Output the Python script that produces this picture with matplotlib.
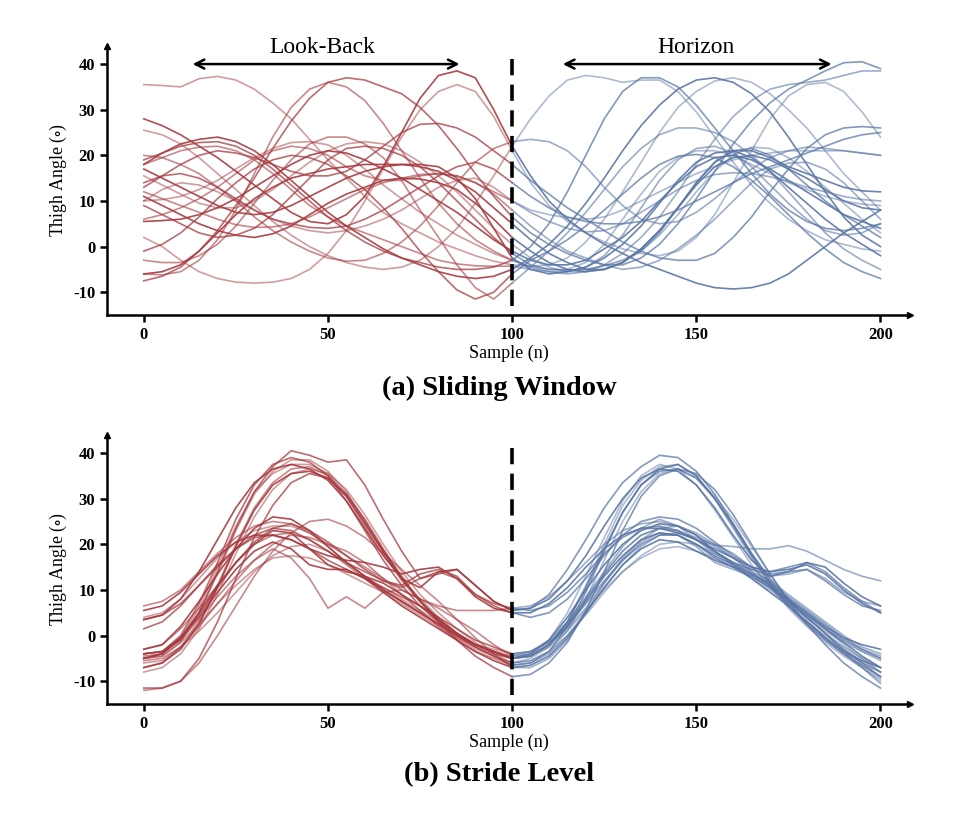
import matplotlib

matplotlib.use("Agg")
import matplotlib.pyplot as plt
import numpy as np

plt.rcParams["font.family"] = ["Liberation Serif", "DejaVu Serif"]
plt.rcParams["mathtext.fontset"] = "stix"
plt.rcParams["axes.unicode_minus"] = False

samples = np.arange(0, 201, 5)
split_at = 100

# (a) sliding window: thigh angle every 5 samples, one row per window
window_curves = [
    [35.5, 35.3, 35, 36.8, 37.3, 36.5, 34.5, 31.5, 28, 23.5, 19, 15, 11, 7.5, 5, 3, 1, -0.5, -2, -3.2,
     -4, -4.3, -4, -2.5, 1, 6, 12, 18.5, 25, 30.5, 34, 36.3, 37, 36, 33.5, 30, 26, 21, 16, 12, 8],
    [-7.5, -6.5, -4.5, -1, 3.5, 9, 15, 21.5, 27.5, 32.5, 36, 37, 36.5, 35, 33.5, 30.5, 26.5, 21.5, 16, 11,
     6.5, 3, 0.5, -1.5, -3, -4, -4, -2.5, 0.5, 5, 10.5, 16.5, 22.5, 27.5, 31.5, 34.5, 36.5, 38.5, 40.3, 40.5, 39],
    [-6, -6.2, -5.5, -3, 1.5, 8, 16, 24, 30.5, 34.5, 36, 35, 32, 27, 21, 15, 9.5, 5, 1.5, -1,
     -3, -4.5, -5.5, -6, -5.5, -4, -1.5, 2, 6.5, 12, 18, 23.5, 28.5, 32, 34.5, 35.5, 36, 36.5, 37.5, 38.5, 38.5],
    [28, 26.5, 24.5, 22, 19.5, 16.5, 13.5, 10.5, 7.5, 5.5, 5, 7, 11, 17.5, 25, 32.5, 37.5, 38.5, 37, 30,
     22, 15.5, 10, 6, 3, 0.5, -1.5, -3.5, -5, -6.5, -8, -9, -9.3, -9, -8, -6, -3, 0, 3, 5.5, 8],
    [25.5, 24.5, 22.5, 19.5, 16, 12.5, 9, 5.5, 2.5, 0, -2, -3.5, -4.5, -5, -4.5, -3, 0, 4, 9.5, 15.5,
     22, 28, 33, 36.5, 37.5, 37, 36, 36.5, 36.5, 34, 29.5, 24, 18.5, 13.5, 9.5, 6, 3.5, 1.5, 0.5, -0.5, -1],
    [19, 20.5, 22, 22.8, 23, 22, 20, 17, 13.5, 10, 6.5, 3.5, 1, -1, -2.5, -3.5, -4.5, -5, -5, -4.5,
     -3, 0, 5, 12, 20, 28, 34, 37, 37, 35, 31, 26, 21, 16, 11.5, 8, 5.5, 4, 3.5, 4, 5],
    [18, 19.5, 21, 21.8, 22, 21, 19, 16, 12.5, 9, 6.5, 4.5, 3, 1.5, 0, -1.5, -3, -3.8, -4.2, -4.3,
     -4.3, -5, -5.5, -5.5, -4.5, -2, 2.5, 8.5, 14.5, 19, 21.5, 22, 20.5, 17.5, 13.5, 9.5, 6, 3.5, 2.5, 3, 5],
    [17, 15, 13, 11, 9, 7.5, 7, 7.5, 9, 11, 13, 15, 16.5, 17.5, 18, 17.5, 16.5, 14.5, 12, 8.5,
     5, 1.5, -1.5, -3.5, -5, -5, -3.5, -0.5, 3.5, 8.5, 13.5, 17.5, 19.5, 20, 19, 17, 15, 12.5, 10, 8.5, 8],
    [15.5, 13.5, 11.5, 9.5, 8.5, 8.5, 10, 12.5, 15.5, 18.5, 21, 22.5, 23, 22.5, 21, 18.5, 15.5, 12, 8, 4,
     0.5, -2.5, -4.5, -5.5, -5.5, -5, -3.5, -1, 2.5, 7, 12, 16.5, 20, 21.8, 21.5, 19.5, 16.5, 13, 9.5, 6, 3],
    [14, 15.5, 16, 15, 13, 10.5, 8, 6, 5, 4.2, 4, 4.5, 6, 8, 10.5, 13, 15.5, 17.5, 18.5, 17,
     14, 11, 8.5, 6.5, 5.5, 5, 5, 5.5, 6.5, 8, 10, 12, 14, 16, 17.5, 19, 20.5, 22, 23.5, 24.5, 25],
    [12, 10.5, 9, 7.5, 6, 4.8, 4.2, 4.3, 5, 6.5, 8.5, 10.5, 12.5, 14, 15, 15.8, 16, 15.5, 14, 12,
     10, 7.5, 5.5, 4, 3.2, 3.5, 5, 7.5, 10, 12.5, 14.5, 15.8, 16.2, 16, 15.3, 14.3, 13, 12, 11, 10.3, 10],
    [11, 9, 7, 5, 3.5, 2.5, 2, 2.8, 4.5, 7, 9.5, 11.5, 13, 14.5, 15, 14.8, 14, 12.5, 9.5, 6,
     2, -1, -3.5, -5, -5.5, -5, -3.5, -0.5, 3.5, 8.5, 14, 18.5, 21, 21, 19.5, 17.5, 16, 14.5, 13, 12.2, 12],
    [10, 12.5, 14, 13.5, 12, 10, 8, 6, 4.5, 3.5, 3, 3.5, 4.5, 6, 8, 10.5, 13, 14.5, 15, 13,
     10, 8, 7, 6.3, 6, 6.5, 8, 10, 12, 14, 16, 17.5, 19, 20, 20.5, 21, 21, 21, 21, 20.5, 20],
    [9, 7, 5, 3, 2, 2.5, 4, 7, 11, 15, 19, 21.5, 22, 21.5, 20, 17.5, 14, 10, 6, 2,
     -1.5, -4, -5, -5.2, -5, -4.2, -3, -1, 3, 8.5, 14, 18.5, 21, 21.5, 20, 17, 13.5, 10, 7, 4.5, 2],
    [6, 7, 8.5, 10.5, 13, 16, 19, 21, 22, 21.5, 20, 17.5, 15.5, 14.5, 14.5, 15.5, 16, 15.5, 14, 11.5,
     8, 4.5, 1.5, -1, -2.5, -4, -5, -4.5, -3, -0.5, 2.5, 6, 10, 14, 17, 18.3, 18.5, 17, 14, 10, 6],
    [5.5, 5.7, 6, 7, 8.5, 10.5, 13, 15.5, 18, 20, 21, 20.5, 19, 17, 15, 12.5, 10, 7.5, 4.5, 1.5,
     -1, -3, -4, -4, -3, -0.5, 2, 5.5, 10, 14, 17.5, 19.5, 20, 19, 17, 14.5, 12, 9.5, 7, 5.5, 4],
    [2, 0, -3, -5.5, -7, -7.8, -8, -7.8, -7, -5, -1.5, 3.5, 10, 17, 24, 30, 34, 35.5, 34, 28.5,
     21, 14, 9, 5.5, 3, 1, -0.5, -1.5, -2, -1, 2, 7, 14, 21, 28, 33, 35.5, 36, 34, 29.5, 24],
    [-1, 0.5, 3, 6.5, 10.5, 14, 17, 19, 20, 19.5, 18, 15.5, 12.5, 8.5, 4, -1, -5.5, -9.5, -11.5, -10,
     -6, -3, -1, 1.5, 4.5, 8, 11.5, 15, 18, 19.8, 20.2, 19.5, 17.5, 14.5, 11, 7, 3, -0.5, -3.5, -5.5, -7],
    [-3, -3.5, -3.5, -2, 0.5, 4.5, 9.5, 14.5, 19, 22.5, 24, 24, 22.5, 19.5, 14.5, 8, 2, -4, -9, -11.5,
     -8, -4.5, -1, 3, 7.5, 12.5, 17.5, 21.5, 24.5, 26, 26, 25, 23, 20, 16.5, 12, 7.5, 3, -0.5, -3, -5],
    [-6, -5.5, -4, -1, 3, 7, 10.5, 13, 15, 16, 17, 17.5, 18, 18, 18, 18, 17.5, 15, 10.5, 4,
     -2.5, -5, -6, -5.5, -4.5, -2.5, 0.5, 4.5, 9.5, 14.5, 18.5, 20.5, 21, 19.5, 16.5, 13, 9.5, 6, 3, 0.5, -2],
    [10, 10.3, 11, 12.5, 14.5, 17, 19.5, 21.5, 22.8, 23, 22.3, 20, 17, 13.5, 10.5, 7.5, 5, 2.5, 0.5, -1.5,
     -3, -4.3, -5, -5, -3.5, 0.5, 6, 11.5, 16.5, 19.5, 21, 21, 20, 18, 16, 14, 12.5, 11, 10, 9.3, 9],
    [13, 15.5, 18, 20, 21, 20.5, 19.5, 18, 16.5, 15.5, 15.5, 16.5, 19, 22, 25, 26.8, 27, 26, 24, 21,
     18, 14.5, 11.5, 8.5, 6, 3.5, 1, -1, -2.5, -3, -3, -1.5, 2, 6.5, 12, 17, 21.5, 24.5, 26, 26.3, 26],
    [20, 19.5, 18, 16, 13, 10, 6.5, 3.5, 1, -1, -2.5, -3.2, -3, -1.5, 1, 4.5, 9, 14, 18.5, 21.5,
     23, 23.5, 23, 21, 17.5, 13, 9, 6, 5, 5.5, 7.5, 10.5, 14, 17, 19.5, 21, 21.8, 21.5, 21, 20.5, 20],
    [18, 20.5, 22.5, 23.5, 24, 23, 21, 18, 14.5, 11, 7.5, 4.5, 2, -0.5, -2.5, -4, -5.5, -6.5, -7, -6.5,
     -5, -2.5, 0.5, 4.5, 9.5, 15, 21, 26.5, 31, 34.5, 36.5, 37, 36, 33.5, 29.5, 24, 18, 12, 6.5, 2.5, 0],
]

# (b) stride level: look-back stride (0-100) then horizon stride (100-200)
stride_curves = [
    [-5, -4, -0.5, 6, 15, 24, 31.5, 35.5, 37.5, 37.5, 35.5, 30.5, 24, 18, 12, 7.5, 3.5, 0.5, -2, -4,
     -5, -4, -1, 5, 13, 21.5, 29.5, 35, 37.5, 36.5, 33, 27.5, 21.5, 15.5, 10.5, 6.5, 3, 0, -3, -5.5, -8],
    [-4, -3.5, -1, 5, 14, 23.5, 31.5, 37, 40.5, 39.5, 38, 38.5, 33, 25.5, 18.5, 12.5, 13.5, 14.5, 11, 7.5,
     5.5, 6, 9, 14.5, 21, 28, 33.5, 37, 39.5, 39, 36, 31, 24.5, 18, 12.5, 8, 4, 0.5, -3, -6, -9],
    [-5.5, -5, -2.5, 3, 11, 20, 28, 33.5, 36.5, 37, 35, 31, 25, 18.5, 12.5, 8, 4, 0.5, -2, -3.5,
     -4.5, -3.5, -1, 3, 8.5, 14, 19.5, 23.5, 25.5, 24, 21, 19.8, 19.5, 19, 19, 19.7, 18.5, 16.5, 14.5, 13, 12],
    [-7, -6, -3, 2.5, 10.5, 19.5, 27.5, 33, 35.5, 36, 34.5, 30.5, 24.5, 18.5, 12.5, 7.5, 3.5, 0.5, -2, -3.5,
     -5, -4.5, -2, 3, 10.5, 19, 27, 33, 36.5, 37.5, 35, 30, 24, 17.5, 11.5, 6.5, 2.5, -1, -4, -6.5, -9],
    [-8, -7, -4, 1.5, 9, 18, 26, 32, 35.5, 36.5, 35.5, 32, 26.5, 20, 14, 9, 5, 1.5, -1.5, -4,
     -6, -5.5, -3.5, 1, 8, 16.5, 25, 31.5, 35.5, 36.5, 34.5, 30.5, 25.5, 19.5, 13.5, 8, 3.5, -0.5, -4, -7, -10],
    [-11.5, -11.5, -10, -5, 3, 12.5, 21.5, 28.5, 33.5, 35.5, 34.5, 31, 25.5, 19, 13, 7.5, 3, -1, -4.5, -7,
     -9, -8.5, -6, -1.5, 5.5, 14, 23, 30.5, 35, 36.5, 35.5, 32, 26.5, 20, 13.5, 7.5, 2.5, -2, -6, -9, -11.5],
    [-12, -11.5, -10, -6, 0, 6.5, 13, 18.5, 22.5, 25, 25.5, 24, 21.5, 18, 14.5, 11, 7.5, 3.5, -0.5, -4,
     -7, -7, -5, -1, 5, 11.5, 17, 21, 23.5, 24, 22.5, 20, 17, 14, 11, 7.5, 4, 0.5, -3.5, -7, -10.5],
    [3.5, 4.5, 8, 14, 21, 28, 33.5, 36.5, 37.5, 36.5, 34, 29.5, 23.5, 17.5, 12.5, 10.5, 14, 14.5, 11, 7.5,
     5.5, 6, 8, 12, 17.5, 24, 30, 34.5, 36.5, 36, 33, 28, 22, 16.5, 13, 14, 16, 15, 11.5, 8.5, 6.5],
    [-5, -4.5, -1.5, 5, 13.5, 23, 31, 36, 38.5, 38.5, 36, 31.5, 25, 18.5, 12.5, 7.5, 3.5, 0, -2.5, -4.5,
     -6, -5, -2.5, 3, 11, 20, 28.5, 34, 37, 37.5, 35, 30, 23.5, 17, 11, 6, 2, -1.5, -4.5, -7, -9.5],
    [-4, -3.5, 0, 7, 16, 25.5, 33, 37.5, 39, 38, 35, 29.5, 23, 16.5, 11, 6.5, 3, 0, -2.5, -4.5,
     -6.5, -6, -3.5, 2, 9.5, 18.5, 27, 33, 36, 36.5, 34.5, 30, 24.5, 18, 12, 7, 3, -0.5, -3.5, -6, -8],
    [6.5, 7.5, 10, 14, 18, 21.5, 24, 25, 24.5, 22.5, 20, 17.5, 15, 12.5, 10, 8, 6.5, 5.5, 5.5, 5.5,
     6, 6.5, 8.5, 12, 16, 20, 23, 24.5, 25, 24, 22, 19.5, 17, 14.5, 13, 13.5, 14.5, 12.5, 9.5, 7.5, 6.5],
    [5.5, 6.5, 9.5, 13.5, 17.5, 20.5, 22, 22, 21, 19, 17.5, 16.5, 16, 15, 13.5, 14.5, 15, 12.5, 8.5, 6,
     5, 5, 7, 10.5, 15, 19, 22, 23.5, 23.5, 22.5, 21, 19, 17, 15, 14, 14.5, 15.5, 13.5, 10, 7, 5],
    [4, 5, 8, 12.5, 17, 20.5, 23, 24, 24, 22.5, 19.5, 16, 13, 10.5, 8, 5.5, 3, 0.5, -2, -3,
     -4, -3.5, -1.5, 2.5, 8, 13.5, 18.5, 22, 23.5, 23, 21, 18.5, 16, 13.5, 11, 8, 5, 2, -1, -3.5, -5.5],
    [1.5, 3, 6.5, 11, 15.5, 19, 21.5, 22, 21, 19, 16.5, 14.5, 12.5, 10.5, 8.5, 6.5, 4, 1.5, -1, -2.5,
     -4, -3.5, -1.5, 2, 7, 12, 16.5, 20, 22, 22, 20, 17, 15, 13.5, 11.5, 8.5, 5.5, 2.5, -0.5, -3, -5],
    [-3, -2, 1.5, 6, 11, 16, 20, 22, 22.5, 21, 18.5, 15.5, 12.5, 10, 7.5, 5, 2.5, 0, -2, -3.5,
     -5, -4.5, -2, 2.5, 8, 13.5, 18.5, 22, 23.5, 23, 21, 18, 16, 14, 12, 9, 6, 3, 0, -2.5, -4],
    [-4, -3.5, -0.5, 4, 9.5, 14.5, 18.5, 20.5, 19, 15.5, 14.5, 14.5, 12.5, 9.5, 6.5, 4, 1.5, -1, -3.5, -5.5,
     -7, -6.5, -4.5, -0.5, 5, 10.5, 15.5, 19, 21, 20.5, 18.5, 16.5, 15, 13, 10.5, 7.5, 4.5, 1.5, -1.5, -4.5, -7],
    [-5, -4.5, -1.5, 2.5, 7, 11, 14.5, 17, 17.5, 17, 15.5, 13.5, 11.5, 9.5, 7, 4.5, 2, -0.5, -2.5, -4,
     -5, -4.5, -2.5, 1, 5.5, 10, 14, 17, 19, 19.5, 18.5, 17, 15, 12.5, 10, 7, 4, 1, -1.5, -3.5, -5],
    [-5, -4, -0.5, 4.5, 10.5, 16, 20.5, 23.5, 24.5, 23, 20.5, 17.5, 14.5, 12, 11, 13.5, 14.5, 13, 9, 6.5,
     5, 4, 5, 8, 12.5, 17.5, 22, 25, 26, 25.5, 23.5, 20.5, 17.5, 15, 14, 15, 16, 14, 10.5, 7.5, 5],
    [-7, -6, -2.5, 2, 7, 12, 16.5, 20, 22, 21.5, 20, 18.5, 16, 12.5, 9, 5.5, 2, -1, -3.5, -5,
     -6.5, -6, -4, 0, 5, 10.5, 15.5, 19.5, 22, 22.5, 21.5, 20, 18, 15, 11.5, 7.5, 4, 0.5, -2.5, -5, -7],
    [-3, -2, 2, 7.5, 13.5, 19, 23.5, 26, 25.5, 23, 19.5, 16, 13, 10, 7.5, 5, 2.5, 0, -2, -3.5,
     -5, -4, -1, 4, 10, 15.5, 20, 23, 24.5, 24, 22, 18.5, 15.5, 12.5, 9.5, 6.5, 3, -0.5, -3.5, -5.5, -7],
    [-6, -5.5, -2.5, 1, 5, 9.5, 14, 17.5, 19.5, 20, 18.5, 16, 13, 10, 7.5, 5, 2.5, -0.5, -3, -4.5,
     -6, -5.5, -3.5, 0, 4.5, 9.5, 14, 17.5, 20, 20.5, 20, 18, 16, 13.5, 11, 8, 5, 1.5, -2, -5, -8],
    [3.5, 4.5, 7, 11, 15, 19, 22, 23.5, 23, 21, 18.5, 16, 14, 12, 10.5, 12.5, 14, 12.5, 9, 7,
     6, 5.5, 6.5, 9.5, 13.5, 18, 21.5, 23.5, 24, 23, 21, 18.5, 16, 14.5, 13.5, 14, 14.5, 12, 9, 6.5, 5.5],
    [-4.5, -4, -1, 3.5, 8.5, 13, 16.5, 19, 17, 12.5, 6, 8.5, 6, 9.5, 10, 8, 6, 3.5, 1, -2,
     -4.5, -4, -2, 1.5, 6, 11.5, 16.5, 20.5, 22.5, 22, 19.5, 16, 14.5, 13, 10.5, 7.5, 4.5, 1.5, -1, -3, -4.5],
    [-5, -4, -0.5, 5, 11, 16, 20, 23, 22.5, 19, 15.5, 14, 13, 11.5, 9, 6.5, 3.5, 0.5, -2, -3.5,
     -5, -4.5, -2, 2, 7.5, 13, 17.5, 21, 22.5, 22, 20, 17.5, 15.5, 13.5, 11, 8, 5, 2, -0.5, -2, -3],
]

x_ticks = [0, 50, 100, 150, 200]
y_ticks = [40, 30, 20, 10, 0, -10]
panel_titles = ["(a) Sliding Window", "(b) Stride Level"]

RED = "#A63A3F"
BLUE = "#5B77A6"
ALPHAS = [0.5, 0.75, 0.6, 0.9]


def draw_panel(ax, curves):
    cut = list(samples).index(split_at)
    for i, curve in enumerate(curves):
        a = ALPHAS[i % len(ALPHAS)]
        ax.plot(samples[: cut + 1], curve[: cut + 1], color=RED, alpha=a, lw=1.2)
        ax.plot(samples[cut:], curve[cut:], color=BLUE, alpha=a, lw=1.2)

    ax.plot([split_at, split_at], [-13, 42.8], color="black", lw=2.6,
            dashes=(4.5, 2.6), solid_capstyle="butt")

    ax.set_xlim(-10, 208)
    ax.set_ylim(-15, 44)
    ax.set_xticks(x_ticks)
    ax.set_yticks(y_ticks)
    ax.set_yticklabels([str(v) for v in y_ticks])
    for lab in ax.get_xticklabels() + ax.get_yticklabels():
        lab.set_fontweight("bold")
    ax.tick_params(labelsize=12, length=5, width=1.8, direction="out")

    for side in ("top", "right"):
        ax.spines[side].set_visible(False)
    for side in ("left", "bottom"):
        ax.spines[side].set_linewidth(1.8)
    ax.plot(1, 0, ">k", ms=5, transform=ax.transAxes, clip_on=False)
    ax.plot(0, 1, "^k", ms=5, transform=ax.transAxes, clip_on=False)

    ax.set_xlabel("Sample (n)", fontsize=13)
    ax.set_ylabel(r"Thigh Angle ($\circ$)", fontsize=12.8, labelpad=3)
    ax.xaxis.set_label_coords(0.5, -0.11)


fig = plt.figure(figsize=(9.62, 8.14), dpi=100)
ax_top = fig.add_axes([0.1112, 0.6130, 0.8347, 0.3307])
ax_bot = fig.add_axes([0.1112, 0.1351, 0.8347, 0.3308])

draw_panel(ax_top, window_curves)
draw_panel(ax_bot, stride_curves)

arrow = dict(arrowstyle="<->", lw=1.8, color="black", mutation_scale=16)
ax_top.annotate("", xy=(12.5, 40), xytext=(86.5, 40), arrowprops=arrow)
ax_top.annotate("", xy=(113, 40), xytext=(187.5, 40), arrowprops=arrow)
ax_top.text(48.5, 43.6, "Look-Back", ha="center", va="center", fontsize=17)
ax_top.text(150, 43.6, "Horizon", ha="center", va="center", fontsize=17)

fig.text(0.519, 0.523, panel_titles[0], ha="center", va="center",
         fontsize=20.5, fontweight="bold")
fig.text(0.519, 0.048, panel_titles[1], ha="center", va="center",
         fontsize=20.5, fontweight="bold")

fig.savefig("out.png", dpi=100)
